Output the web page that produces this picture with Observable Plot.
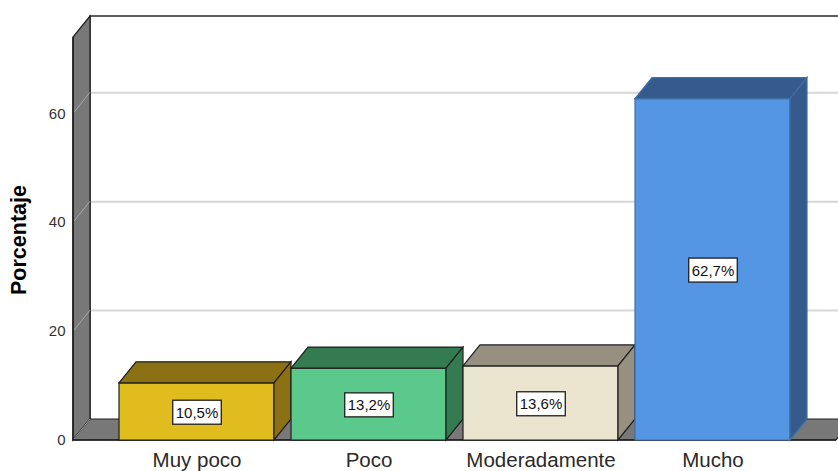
<!DOCTYPE html>
<html>
<head>
<meta charset="utf-8">
<script src="https://cdn.jsdelivr.net/npm/d3@7"></script>
<script src="https://cdn.jsdelivr.net/npm/@observablehq/plot@0.6"></script>
<style>
  html, body { margin: 0; padding: 0; background: #fff; }
  svg { display: block; }
</style>
</head>
<body>
<div id="chart"></div>
<script>
// ---- data ----
const categories = ["Muy poco", "Poco", "Moderadamente", "Mucho"];
const percentages = [10.5, 13.2, 13.6, 62.7];
const valueLabels = ["10,5%", "13,2%", "13,6%", "62,7%"];
const yTicks = [0, 20, 40, 60];
const gridTicks = [20, 40, 60];
const yLabel = "Porcentaje";

// ---- styles ----
const frontColors = ["#e1bc1e", "#5bc98b", "#ebe4cf", "#5596e4"];
const darkColors = ["#8b7113", "#357b52", "#979080", "#355b8d"];
const edgeColors = ["#1e1e1e", "#1e1e1e", "#1e1e1e", "#3f6ea6"];
const DX = 17, DY = 21;
const wallGray = "#787878";

const rows = categories.map((c, i) => ({
  category: c, value: percentages[i], label: valueLabels[i],
  front: frontColors[i], dark: darkColors[i], edge: edgeColors[i]
}));

function poly(g, pts, fill, stroke, sw) {
  g.append("polygon")
    .attr("points", pts.map(p => p.join(",")).join(" "))
    .attr("fill", fill)
    .attr("stroke", stroke)
    .attr("stroke-width", sw)
    .attr("stroke-linejoin", "miter");
}

function bandwidthOf(scales) {
  if (scales.x && typeof scales.x.bandwidth === "function") return scales.x.bandwidth();
  if (scales.scales && scales.scales.x) return scales.scales.x.bandwidth;
  return 155;
}

// walls (side wall + floor) rendered through the plot's y scale & dimensions
const walls = Plot.frame({
  render(index, scales, values, dims) {
    const g = d3.create("svg:g");
    const L = dims.marginLeft, R = dims.width - dims.marginRight;
    const T = dims.marginTop, B = dims.height - dims.marginBottom;
    g.append("path")
      .attr("d", `M${L + DX},${B - DY}V${T - DY}H${R + DX + 40}`)
      .attr("fill", "none").attr("stroke", "#2a2a2a").attr("stroke-width", 1.5);
    poly(g, [[L, B], [L, T], [L + DX, T - DY], [L + DX, B - DY]], wallGray, "#1e1e1e", 1.2);
    poly(g, [[L, B], [L + DX, B - DY], [R + DX, B - DY], [R, B]], wallGray, "#1e1e1e", 1.2);
    for (const t of yTicks) {
      const y = scales.y(t);
      g.append("line")
        .attr("x1", L + 1).attr("y1", y - 1)
        .attr("x2", L + DX).attr("y2", y - DY)
        .attr("stroke", "#a8a8a8").attr("stroke-width", 1);
    }
    g.append("path")
      .attr("d", `M${L},${T}V${B}H${R}`)
      .attr("fill", "none").attr("stroke", "#1e1e1e").attr("stroke-width", 1.5);
    return g.node();
  }
});

// 3D bars
const bars = Plot.barY(rows, {
  x: "category",
  y: "value",
  render(index, scales, values, dims) {
    const g = d3.create("svg:g");
    const bw = bandwidthOf(scales);
    for (const i of index) {
      const d = rows[i];
      const x0 = scales.x(d.category), x1 = x0 + bw;
      const yb = scales.y(0), yt = scales.y(d.value);
      poly(g, [[x0, yb], [x0, yt], [x1, yt], [x1, yb]], d.front, d.edge, 1.2);
      poly(g, [[x0, yt], [x0 + DX, yt - DY], [x1 + DX, yt - DY], [x1, yt]], d.dark, d.edge, 1.2);
      poly(g, [[x1, yt], [x1 + DX, yt - DY], [x1 + DX, yb - DY], [x1, yb]], d.dark, d.edge, 1.2);
    }
    return g.node();
  }
});

const plot = Plot.plot({
  width: 838,
  height: 471,
  marginLeft: 73,
  marginRight: 2,
  marginTop: 37,
  marginBottom: 31,
  style: { fontFamily: "Arial, 'Liberation Sans', sans-serif", background: "#fff" },
  x: { type: "band", domain: categories, paddingInner: 0.0988, paddingOuter: 0.2674, align: 0.5 },
  y: { domain: [0, 74] },
  marks: [
    Plot.ruleY(gridTicks, { dx: DX, dy: -DY, stroke: "#d6d6d6", strokeWidth: 2 }),
    walls,
    bars,
    Plot.text(rows, {
      x: "category",
      y: d => d.value / 2,
      text: "label",
      fontSize: 15,
      fill: "#111",
      dy: 1
    }),
    Plot.axisY(yTicks, { tickSize: 0, tickPadding: 8, fontSize: 15, color: "#333", label: null }),
    Plot.axisX(categories, { tickSize: 0, tickPadding: 12, fontSize: 20.5, color: "#2a2a2a", label: null }),
    Plot.text([yLabel], {
      frameAnchor: "left",
      textAnchor: "middle",
      text: d => d,
      rotate: -90,
      dx: -54,
      dy: 1,
      fontSize: 21.5,
      fontWeight: "bold",
      fill: "#000"
    })
  ]
});

document.getElementById("chart").appendChild(plot);

// white boxes behind value labels
d3.select(plot).selectAll("text").filter(function () {
  return valueLabels.includes(this.textContent);
}).each(function () {
  const bb = this.getBBox();
  const tr = this.getAttribute("transform");
  const r = d3.select(this.parentNode).insert("rect", () => this)
    .attr("x", bb.x - 3).attr("y", bb.y + bb.height / 2 - 12)
    .attr("width", bb.width + 6).attr("height", 24)
    .attr("fill", "#fff").attr("stroke", "#1e1e1e").attr("stroke-width", 1.3);
  if (tr) r.attr("transform", tr);
});
</script>
</body>
</html>
